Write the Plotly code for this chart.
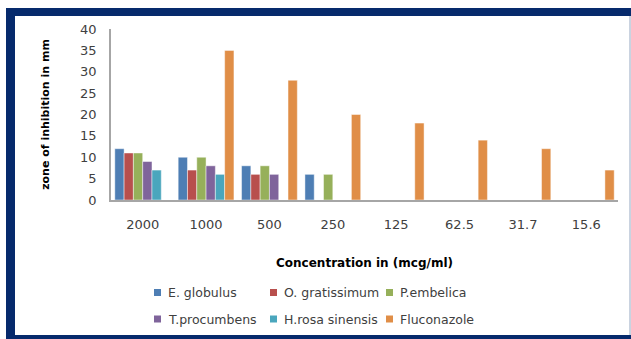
import plotly.graph_objects as go

# Concentrations tested (mcg/ml) and zone-of-inhibition readings (mm)
concentrations = ["2000", "1000", "500", "250", "125", "62.5", "31.7", "15.6"]
e_globulus = [12, 10, 8, 6, None, None, None, None]
o_gratissimum = [11, 7, 6, None, None, None, None, None]
p_embelica = [11, 10, 8, 6, None, None, None, None]
t_procumbens = [9, 8, 6, None, None, None, None, None]
h_rosa_sinensis = [7, 6, None, None, None, None, None, None]
fluconazole = [None, 35, 28, 20, 18, 14, 12, 7]
y_ticks = [0, 5, 10, 15, 20, 25, 30, 35, 40]

series_names = ["E. globulus", "O. gratissimum", "P.embelica",
                "T.procumbens", "H.rosa sinensis", "Fluconazole"]
series_values = [e_globulus, o_gratissimum, p_embelica,
                 t_procumbens, h_rosa_sinensis, fluconazole]
series_colors = ["#4E7EB4", "#B84F4D", "#96B05A", "#7F649B", "#4AA6BD", "#E08E47"]

W, H = 631, 339
L, R, T, B = 111, 13, 29, 139
pw, ph = W - L - R, H - T - B

fig = go.Figure()
for name, vals, color in zip(series_names, series_values, series_colors):
    fig.add_trace(go.Bar(
        x=concentrations, y=vals, name=name, showlegend=False,
        marker=dict(color=color, line=dict(color="rgba(255,255,255,0.45)", width=1)),
    ))


def px_x(v):
    return (v - L) / pw


def px_y(v):
    return (H - B - v) / ph


navy = "#062A6C"
frame = [
    # left, top and bottom bands of the frame
    dict(x0=px_x(6), x1=px_x(15), y0=px_y(8), y1=px_y(339)),
    dict(x0=px_x(6), x1=px_x(631), y0=px_y(8), y1=px_y(16)),
    dict(x0=px_x(6), x1=px_x(631), y0=px_y(335), y1=px_y(339)),
]
shapes = [dict(type="rect", xref="paper", yref="paper", fillcolor=navy,
               line=dict(width=0), layer="above", **f) for f in frame]
shapes.append(dict(type="line", xref="paper", yref="paper",
                   x0=px_x(630), x1=px_x(630), y0=px_y(16), y1=px_y(335),
                   line=dict(color="#B9C4D6", width=1.5)))

# Key: three columns, two rows below the axis title
annotations = []
col_x = [154, 270, 386]
row_y = [292.5, 319]
for i, (name, color) in enumerate(zip(series_names, series_colors)):
    cx = col_x[i % 3]
    cy = row_y[i // 3]
    shapes.append(dict(type="rect", xref="paper", yref="paper",
                       x0=px_x(cx), x1=px_x(cx + 7),
                       y0=px_y(cy - 3.5), y1=px_y(cy + 3.5),
                       fillcolor=color, line=dict(width=0)))
    annotations.append(dict(xref="paper", yref="paper", x=px_x(cx + 12), y=px_y(cy),
                            text=name, showarrow=False, xanchor="left", yanchor="middle",
                            font=dict(family="DejaVu Sans", size=12.5, color="#404040")))

fig.update_layout(
    width=W, height=H,
    margin=dict(l=L, r=R, t=T, b=B, autoexpand=False),
    paper_bgcolor="white", plot_bgcolor="white",
    barmode="group", bargap=0.12, bargroupgap=0,
    font=dict(family="DejaVu Sans", color="#404040"),
    xaxis=dict(
        showgrid=False, showline=True, linecolor="#A6A6A6", linewidth=1.5,
        tickfont=dict(size=13, color="#404040"), ticks="", ticklabelstandoff=12,
        title=dict(text="<b>Concentration in (mcg/ml)</b>", standoff=27,
                   font=dict(size=12, color="#000000")),
    ),
    yaxis=dict(
        range=[0, 40], tickvals=y_ticks, showgrid=False, zeroline=False,
        showline=True, linecolor="#A6A6A6", linewidth=1.5,
        tickfont=dict(size=13, color="#404040"), ticks="", ticklabelstandoff=10,
        title=dict(text="<b>zone of inhibition in mm</b>", standoff=28,
                   font=dict(size=11, color="#000000")),
    ),
    shapes=shapes,
    annotations=annotations,
    showlegend=False,
)

fig.write_html("out.html")
